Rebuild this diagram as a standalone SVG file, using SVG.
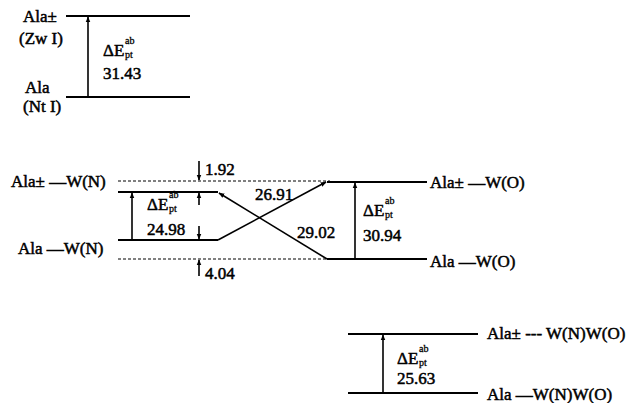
<svg xmlns="http://www.w3.org/2000/svg" width="627" height="403" viewBox="0 0 627 403">
<style>
text{font-family:"Liberation Serif","DejaVu Serif",serif;font-size:17px;fill:#000;stroke:#000;stroke-width:0.5}
.lvl{stroke:#000;stroke-width:2;fill:none}
.dash{stroke:#000;stroke-width:1;stroke-dasharray:3,2;fill:none}
.arr{stroke:#000;stroke-width:1.6;fill:none;marker-end:url(#ah)}
.sm{font-size:10px;stroke-width:0.3}
</style>
<defs>
<marker id="ah" viewBox="0 0 10 10" refX="9" refY="5" markerWidth="6" markerHeight="6" orient="auto" markerUnits="userSpaceOnUse">
<path d="M0,1 L10,5 L0,9 Z" fill="#000"/>
</marker>
</defs>
<rect width="627" height="403" fill="#fff"/>

<g id="block-isolated">
<line class="lvl" x1="66" y1="16" x2="190" y2="16"/>
<line class="lvl" x1="66" y1="97" x2="190" y2="97"/>
<text x="23" y="22">Ala±</text>
<text x="19" y="44">(Zw I)</text>
<text x="25" y="93">Ala</text>
<text x="23" y="112">(Nt I)</text>
<text x="103" y="56">ΔE</text>
<text class="sm" x="125" y="44">ab</text>
<text class="sm" x="125" y="58">pt</text>
<text x="103" y="79">31.43</text>
</g>

<g id="block-WN">
<line class="dash" x1="118" y1="181" x2="330" y2="181"/>
<line class="dash" x1="118" y1="259" x2="330" y2="259"/>
<line class="lvl" x1="118" y1="192" x2="218" y2="192"/>
<line class="lvl" x1="118" y1="240" x2="218" y2="240"/>
<text x="11" y="187">Ala± —W(N)</text>
<text x="18" y="254">Ala —W(N)</text>
<text x="147" y="210">ΔE</text>
<text class="sm" x="169" y="198">ab</text>
<text class="sm" x="169" y="212">pt</text>
<text x="147" y="235">24.98</text>
<text x="205" y="175">1.92</text>
<text x="205" y="279">4.04</text>
</g>

<g id="block-WO">
<line class="lvl" x1="327" y1="182" x2="427" y2="182"/>
<line class="lvl" x1="327" y1="259" x2="427" y2="259"/>
<text x="430" y="188">Ala± —W(O)</text>
<text x="430" y="267">Ala —W(O)</text>
<text x="363" y="216">ΔE</text>
<text class="sm" x="385" y="204">ab</text>
<text class="sm" x="385" y="218">pt</text>
<text x="363" y="241">30.94</text>
<text x="255" y="200">26.91</text>
<text x="297" y="238">29.02</text>
</g>

<g id="block-WNWO">
<line class="lvl" x1="348" y1="334" x2="478" y2="334"/>
<line class="lvl" x1="348" y1="393" x2="478" y2="393"/>
<text x="487" y="339">Ala± --- W(N)W(O)</text>
<text x="487" y="400">Ala —W(N)W(O)</text>
<text x="397" y="364">ΔE</text>
<text class="sm" x="419" y="352">ab</text>
<text class="sm" x="419" y="366">pt</text>
<text x="397" y="384">25.63</text>
</g>

<g id="connectors">
<line class="arr" x1="88" y1="97" x2="88" y2="17"/>
<line class="arr" x1="132" y1="240" x2="132" y2="193"/>
<line class="arr" x1="218" y1="240" x2="326" y2="182"/>
<line class="arr" x1="327" y1="259" x2="219" y2="193"/>
<line class="arr" x1="355" y1="259" x2="355" y2="183"/>
<line class="arr" x1="383" y1="393" x2="383" y2="335"/>
<line class="arr" x1="199" y1="161" x2="199" y2="180"/>
<line class="arr" x1="199" y1="205" x2="199" y2="193"/>
<line class="arr" x1="199" y1="226" x2="199" y2="239"/>
<line class="arr" x1="199" y1="276" x2="199" y2="260"/>
</g>
</svg>
